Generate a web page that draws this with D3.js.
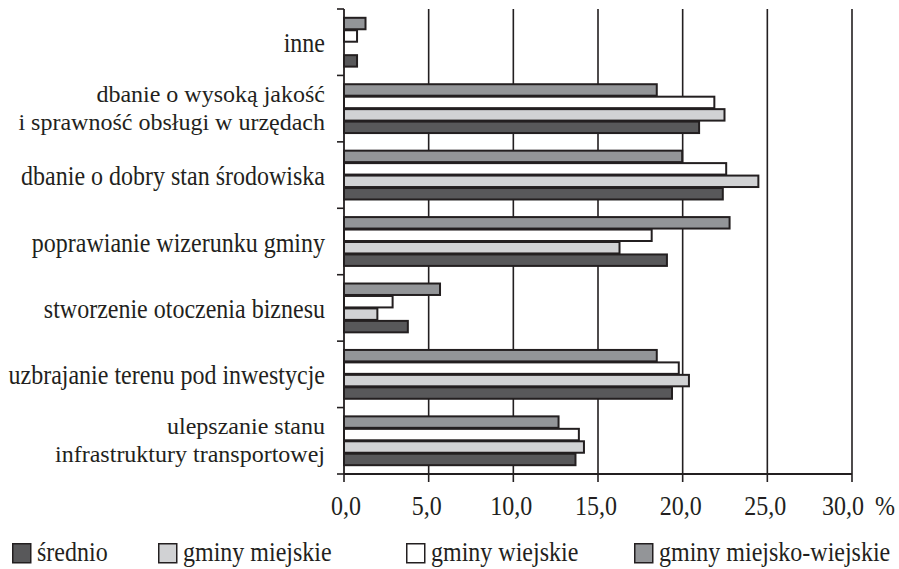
<!DOCTYPE html>
<html><head><meta charset="utf-8">
<script src="https://cdn.jsdelivr.net/npm/d3@7"></script>
<style>body{margin:0;background:#fff}svg{display:block}text{font-family:"Liberation Serif","Times New Roman",serif;fill:#231f20}</style>
</head><body><svg id="c" width="899" height="569"></svg>
<script>
const categories = [
  ["inne"],
  ["dbanie o wysoką jakość","i sprawność obsługi w urzędach"],
  ["dbanie o dobry stan środowiska"],
  ["poprawianie wizerunku gminy"],
  ["stworzenie otoczenia biznesu"],
  ["uzbrajanie terenu pod inwestycje"],
  ["ulepszanie stanu","infrastruktury transportowej"]
];
const seriesNames = ["średnio","gminy miejskie","gminy wiejskie","gminy miejsko-wiejskie"];
const srednio   = [0.8, 21.0, 22.4, 19.1, 3.8, 19.4, 13.7];
const miejskie  = [0.0, 22.5, 24.5, 16.3, 2.0, 20.4, 14.2];
const wiejskie  = [0.8, 21.9, 22.6, 18.2, 2.9, 19.8, 13.9];
const miejskoWiejskie = [1.3, 18.5, 20.0, 22.8, 5.7, 18.5, 12.7];
const xTicks = [0, 5, 10, 15, 20, 25, 30];
const xTickLabels = ["0,0","5,0","10,0","15,0","20,0","25,0","30,0"];
const unitLabel = "%";

const seriesValues = [srednio, miejskie, wiejskie, miejskoWiejskie];
const fills = ["#58585a","#d1d2d4","#ffffff","#939598"];
const ink = "#231f20";
const SY = 1.15; // vertical stretch of the original lettering

const svg = d3.select("#c");
const L = 344, R = 852, T = 9, B = 474;
const catIdx = categories.map((d,i)=>i);
const x = d3.scaleLinear().domain([0,30]).range([L,R]);
const y = d3.scaleBand().domain(catIdx).range([T,B]).paddingInner(0.25).paddingOuter(0.125);
const sub = d3.scaleBand().domain([3,2,1,0]).range([0,y.bandwidth()]);

function txt(sel, tx, ty, s, anchor, sy){
  return sel.append("text").attr("transform",`translate(${tx},${ty}) scale(1,${sy||SY})`)
    .attr("text-anchor",anchor||"start").attr("font-size",24).text(s);
}

// gridlines
svg.append("g").selectAll("line").data(xTicks.filter(d=>d>0)).join("line")
  .attr("x1",d=>x(d)).attr("x2",d=>x(d)).attr("y1",T).attr("y2",B)
  .attr("stroke",ink).attr("stroke-width",1.6);

// bars
const g = svg.append("g").selectAll("g").data(catIdx).join("g")
  .attr("transform",i=>`translate(0,${y(i)})`);
g.selectAll("rect").data(i=>[3,2,1,0].map(s=>({s, v:seriesValues[s][i]})).filter(d=>d.v>0)).join("rect")
  .attr("x",x(0)).attr("y",d=>sub(d.s)+0.5)
  .attr("width",d=>x(d.v)-x(0)-0.5).attr("height",sub.bandwidth()-1)
  .attr("fill",d=>fills[d.s]).attr("stroke",ink).attr("stroke-width",2);

// y axis
const step = y.step();
const bounds = catIdx.map(i=>y(i)-step*y.paddingInner()/2).concat([B]);
svg.append("line").attr("x1",L).attr("x2",L).attr("y1",T).attr("y2",B).attr("stroke",ink).attr("stroke-width",1.8);
svg.append("g").selectAll("line").data(bounds).join("line")
  .attr("x1",L-7).attr("x2",L).attr("y1",d=>d).attr("y2",d=>d).attr("stroke",ink).attr("stroke-width",1.6);

// x axis
svg.append("line").attr("x1",L).attr("x2",R).attr("y1",B).attr("y2",B).attr("stroke",ink).attr("stroke-width",1.8);
svg.append("g").selectAll("line").data(xTicks).join("line")
  .attr("x1",d=>x(d)).attr("x2",d=>x(d)).attr("y1",B).attr("y2",B+8).attr("stroke",ink).attr("stroke-width",1.6);
const xl = svg.append("g");
xTicks.forEach((d,i)=>{
  const last = i===xTicks.length-1;
  txt(xl, x(d)+(last?-9:0)+(i===0?2:0)-(i>0&&!last?2:0), 515, xTickLabels[i], "middle");
});
txt(xl, 875, 515, unitLabel);

// category labels
const lab = svg.append("g");
catIdx.forEach(i=>{
  const c = y(i)+y.bandwidth()/2;
  const lines = categories[i];
  if(lines.length===1){
    txt(lab, 325, c+10, lines[0], "end");
  } else {
    txt(lab, 325, c-7, lines[0], "end", 1);
    txt(lab, 325, c+21, lines[1], "end", 1);
  }
});

// legend
const legX = [12,158,406,634];
const leg = svg.append("g");
[0,1,2,3].forEach(s=>{
  leg.append("rect").attr("x",legX[s]+0.75).attr("y",543.75).attr("width",18).attr("height",19)
    .attr("fill",fills[s]).attr("stroke",ink).attr("stroke-width",1.5);
  txt(leg, legX[s]+25, 561, seriesNames[s]);
});
</script></body></html>
